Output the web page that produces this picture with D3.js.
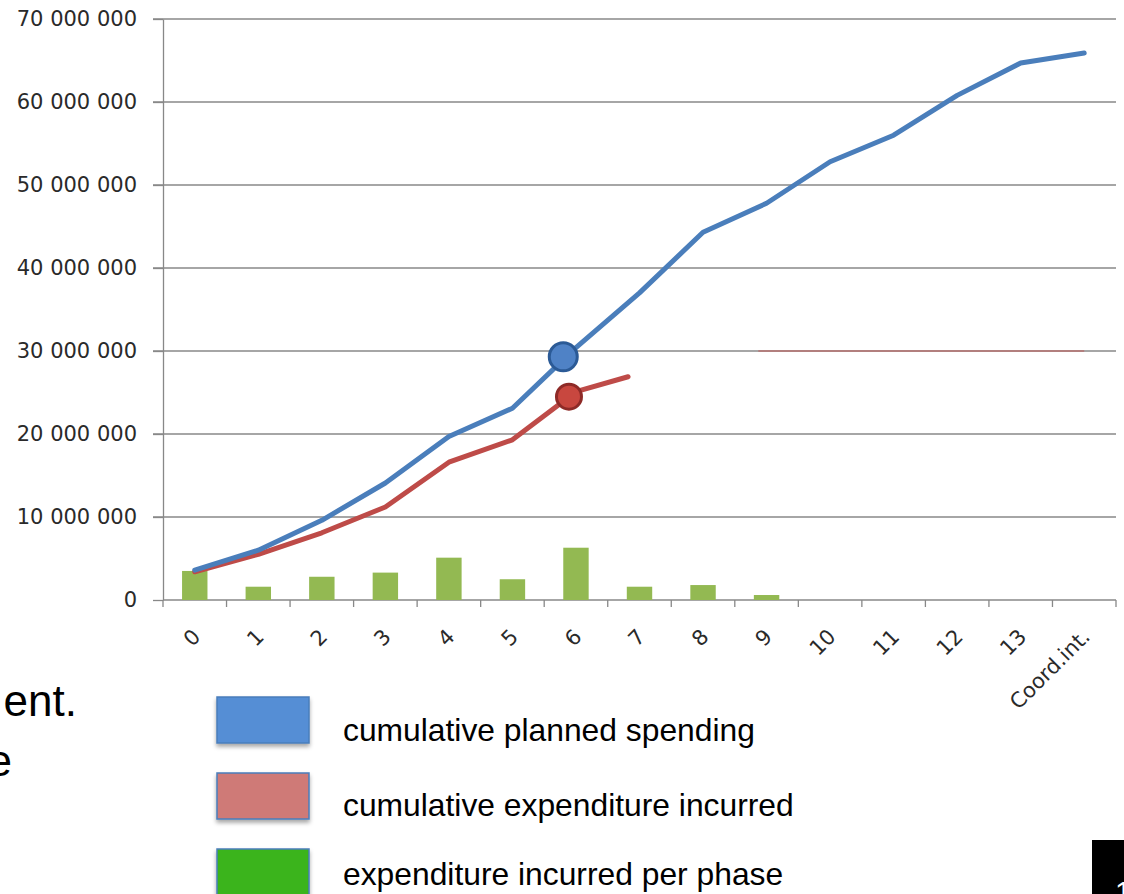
<!DOCTYPE html>
<html><head><meta charset="utf-8">
<script src="https://cdn.jsdelivr.net/npm/d3@7"></script>
<style>html,body{margin:0;padding:0;background:#fff;overflow:hidden;} svg{display:block;}</style>
</head><body>
<svg id="c" width="1124" height="894"></svg>
<script>
// ---- data ----
const categories = ["0","1","2","3","4","5","6","7","8","9","10","11","12","13","Coord.int."];
const plannedCumulative = [3600000,6000000,9600000,14100000,19700000,23100000,30400000,37000000,44300000,47800000,52800000,56000000,60800000,64700000,65900000];
const incurredCumulative = [3400000,5500000,8100000,11200000,16600000,19300000,25100000];
const incurredTailPos = [6.82];
const incurredTailVal = [26900000];
const incurredPerPhase = [3500000,1600000,2800000,3300000,5100000,2500000,6300000,1600000,1800000,600000,0,0,0,0,0];
const yTicks = [0,10000000,20000000,30000000,40000000,50000000,60000000,70000000];
const markerPos = [5.8, 5.89];
const markerVal = [29300000, 24500000];
const targetPos = [8.87, 14];
const targetVal = [30000000, 30000000];
const legendLabels = ["cumulative planned spending","cumulative expenditure incurred","expenditure incurred per phase"];
const legendColors = ["#558ed5","#cf7a77","#3bb41b"];
const sideText = ["ent.","e"];

// ---- layout ----
const svg = d3.select("#c");
const L = 163, R = 1116, T = 19, B = 600;
const x = d3.scaleBand().domain(categories).range([L, R]).padding(0);
const pos = d3.scaleLinear().domain([0, categories.length - 1])
  .range([x(categories[0]) + x.bandwidth()/2, x(categories[categories.length-1]) + x.bandwidth()/2]);
const y = d3.scaleLinear().domain([0, 70000000]).range([B, T]);
const loc = d3.formatLocale({decimal: ",", thousands: " ", grouping: [3], currency: ["", ""]});
const fmt = loc.format(",d");

const defs = svg.append("defs");
const f = defs.append("filter").attr("id","sh").attr("x","-10%").attr("y","-10%").attr("width","130%").attr("height","150%");
f.append("feDropShadow").attr("dx",0).attr("dy",3).attr("stdDeviation",2).attr("flood-color","#000").attr("flood-opacity",0.35);

// gridlines
svg.append("g").selectAll("line").data(yTicks.slice(1)).join("line")
  .attr("x1", L - 10).attr("x2", R).attr("y1", d => y(d)).attr("y2", d => y(d))
  .attr("stroke", "#888").attr("stroke-width", 1.3);

// y axis
const ya = svg.append("g").attr("transform", `translate(${L},0)`)
  .call(d3.axisLeft(y).tickValues(yTicks).tickSize(10).tickSizeOuter(0).tickFormat(fmt).tickPadding(16));
ya.select(".domain").attr("stroke", "#888").attr("stroke-width", 1.3);
ya.selectAll(".tick line").attr("stroke", "#888").attr("stroke-width", 1.3);
ya.selectAll(".tick text").attr("font-family", "DejaVu Sans").attr("font-size", 21).attr("fill", "#2a2a2a");

// x axis baseline and boundary ticks
svg.append("line").attr("x1", L).attr("x2", R).attr("y1", B).attr("y2", B)
  .attr("stroke", "#888").attr("stroke-width", 1.3);
const edges = categories.map(c => x(c)).concat([x.range()[1]]);
svg.append("g").selectAll("line").data(edges).join("line")
  .attr("x1", d => d).attr("x2", d => d).attr("y1", B).attr("y2", B + 7)
  .attr("stroke", "#888").attr("stroke-width", 1.3);
svg.append("g").selectAll("text").data(categories).join("text")
  .attr("transform", (d, i) => `translate(${pos(i) + 2},${B + 33}) rotate(-45)`)
  .attr("text-anchor", "end").attr("dominant-baseline", "central")
  .attr("font-family", "DejaVu Sans").attr("font-size", 21).attr("fill", "#2a2a2a")
  .text(d => d);

// bars
const bw = x.bandwidth() * 0.4;
svg.append("g").selectAll("rect").data(incurredPerPhase.map((v, i) => ({c: categories[i], v})).filter(d => d.v > 0)).join("rect")
  .attr("x", d => x(d.c) + x.bandwidth()/2 - bw/2).attr("width", bw)
  .attr("y", d => y(d.v)).attr("height", d => B - y(d.v))
  .attr("fill", "#93b952");

// target line
svg.append("line")
  .attr("x1", pos(targetPos[0])).attr("x2", pos(targetPos[1]))
  .attr("y1", y(targetVal[0])).attr("y2", y(targetVal[1]))
  .attr("stroke", "#c0504d").attr("stroke-opacity", 0.45).attr("stroke-width", 2);

const line = d3.line().x(d => pos(d.p)).y(d => y(d.v));
const redData = incurredCumulative.map((v, i) => ({p: i, v})).concat(incurredTailPos.map((p, i) => ({p, v: incurredTailVal[i]})));
svg.append("path").datum(redData).attr("d", line).attr("fill", "none")
  .attr("stroke", "#be4b48").attr("stroke-width", 5).attr("stroke-linejoin", "round").attr("stroke-linecap", "round");
const blueData = plannedCumulative.map((v, i) => ({p: i, v}));
svg.append("path").datum(blueData).attr("d", line).attr("fill", "none")
  .attr("stroke", "#4a7ebb").attr("stroke-width", 5).attr("stroke-linejoin", "round").attr("stroke-linecap", "round");

// markers
const mk = [{fill:"#4f82c6", stroke:"#2b5a96", r:14}, {fill:"#c8473f", stroke:"#8e2a27", r:12.5}];
svg.append("g").selectAll("circle").data(markerPos.map((p, i) => ({p, v: markerVal[i], s: mk[i]}))).join("circle")
  .attr("cx", d => pos(d.p)).attr("cy", d => y(d.v)).attr("r", d => d.s.r)
  .attr("fill", d => d.s.fill).attr("stroke", d => d.s.stroke).attr("stroke-width", 3);

// legend
const lg = svg.append("g");
const rowY = [697, 773, 849];
const baseY = [741, 816, 885];
legendLabels.forEach((t, i) => {
  lg.append("rect").attr("x", 217).attr("y", rowY[i]).attr("width", 92).attr("height", 46)
    .attr("fill", legendColors[i]).attr("stroke", "#4a7ebb").attr("stroke-width", 1.5).attr("filter", "url(#sh)");
  lg.append("text").attr("x", 343).attr("y", baseY[i])
    .attr("font-family", "Liberation Sans, Arial").attr("font-size", 31.8).attr("fill", "#000").text(t);
});

// side text fragments
svg.append("text").attr("x", 77).attr("y", 716).attr("text-anchor", "end")
  .attr("font-family", "Liberation Sans, Arial").attr("font-size", 44).attr("fill", "#000").text(sideText[0]);
svg.append("text").attr("x", 12).attr("y", 776).attr("text-anchor", "end")
  .attr("font-family", "Liberation Sans, Arial").attr("font-size", 44).attr("fill", "#000").text(sideText[1]);

// page number box
svg.append("rect").attr("x", 1092).attr("y", 840).attr("width", 32).attr("height", 54).attr("fill", "#000");
svg.append("text").attr("x", 1115).attr("y", 902).attr("font-family", "Liberation Sans, Arial")
  .attr("font-size", 30).attr("fill", "#fff").text("1");
</script></body></html>
